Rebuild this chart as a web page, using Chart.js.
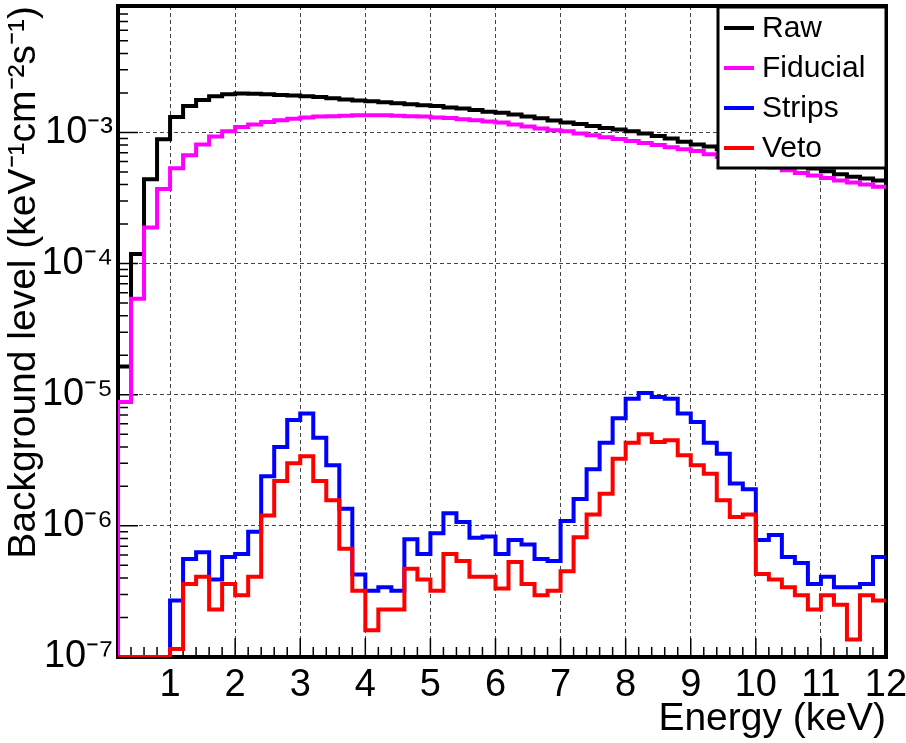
<!DOCTYPE html>
<html>
<head>
<meta charset="utf-8">
<script src="https://cdn.jsdelivr.net/npm/chart.js@4.4.1/dist/chart.umd.min.js"></script>
<style>
  html, body { margin: 0; padding: 0; background: #fff; }
</style>
</head>
<body>
<canvas id="chart" width="906" height="743"></canvas>
<script>
// bin low edges (keV), 0.2 keV bins, upper edge of last bin = 12
const energyLow = [0, 0.2, 0.4, 0.6, 0.8, 1.0, 1.2, 1.4, 1.6, 1.8,
  2.0, 2.2, 2.4, 2.6, 2.8, 3.0, 3.2, 3.4, 3.6, 3.8,
  4.0, 4.2, 4.4, 4.6, 4.8, 5.0, 5.2, 5.4, 5.6, 5.8,
  6.0, 6.2, 6.4, 6.6, 6.8, 7.0, 7.2, 7.4, 7.6, 7.8,
  8.0, 8.2, 8.4, 8.6, 8.8, 9.0, 9.2, 9.4, 9.6, 9.8,
  10.0, 10.2, 10.4, 10.6, 10.8, 11.0, 11.2, 11.4, 11.6, 11.8];
const energyMax = 12;

const raw = [1e-7, 1.64e-5, 1.18e-4, 4.4e-4, 8.85e-4, 1.31e-3, 1.59e-3, 1.77e-3, 1.89e-3, 1.95e-3,
  1.98e-3, 1.97e-3, 1.95e-3, 1.93e-3, 1.91e-3, 1.89e-3, 1.86e-3, 1.82e-3, 1.78e-3, 1.75e-3,
  1.73e-3, 1.70e-3, 1.67e-3, 1.64e-3, 1.61e-3, 1.59e-3, 1.55e-3, 1.52e-3, 1.48e-3, 1.44e-3,
  1.41e-3, 1.37e-3, 1.32e-3, 1.28e-3, 1.23e-3, 1.19e-3, 1.16e-3, 1.12e-3, 1.08e-3, 1.05e-3,
  1.02e-3, 9.8e-4, 9.4e-4, 9.0e-4, 8.5e-4, 8.1e-4, 7.8e-4, 7.45e-4, 7.1e-4, 6.75e-4,
  6.45e-4, 6.15e-4, 5.85e-4, 5.55e-4, 5.3e-4, 5.05e-4, 4.8e-4, 4.6e-4, 4.45e-4, 4.3e-4];

const fiducial = [1e-7, 8.8e-6, 5.4e-5, 1.88e-4, 3.7e-4, 5.33e-4, 6.7e-4, 8.1e-4, 9.3e-4, 1.02e-3,
  1.10e-3, 1.15e-3, 1.20e-3, 1.24e-3, 1.27e-3, 1.30e-3, 1.32e-3, 1.33e-3, 1.34e-3, 1.35e-3,
  1.35e-3, 1.35e-3, 1.34e-3, 1.33e-3, 1.32e-3, 1.30e-3, 1.29e-3, 1.26e-3, 1.24e-3, 1.21e-3,
  1.19e-3, 1.15e-3, 1.11e-3, 1.07e-3, 1.04e-3, 1.02e-3, 9.8e-4, 9.5e-4, 9.2e-4, 8.9e-4,
  8.6e-4, 8.3e-4, 8.0e-4, 7.7e-4, 7.45e-4, 7.2e-4, 6.8e-4, 6.5e-4, 6.2e-4, 5.9e-4,
  5.65e-4, 5.4e-4, 5.15e-4, 4.9e-4, 4.7e-4, 4.5e-4, 4.3e-4, 4.15e-4, 4.0e-4, 3.85e-4];

const strips = [1e-7, 1e-7, 1e-7, 1e-7, 1e-7, 2.7e-7, 5.6e-7, 6.3e-7, 3.9e-7, 5.8e-7,
  6.1e-7, 9.0e-7, 2.39e-6, 4.0e-6, 6.4e-6, 7.2e-6, 4.7e-6, 2.9e-6, 1.35e-6, 4.26e-7,
  3.2e-7, 3.4e-7, 3.2e-7, 7.9e-7, 6.1e-7, 8.8e-7, 1.25e-6, 1.07e-6, 8.1e-7, 8.3e-7,
  6.1e-7, 7.8e-7, 7.2e-7, 5.6e-7, 5.4e-7, 1.09e-6, 1.6e-6, 2.7e-6, 4.3e-6, 6.6e-6,
  9.3e-6, 1.03e-5, 9.6e-6, 9.3e-6, 7.2e-6, 6.2e-6, 4.3e-6, 3.55e-6, 2.1e-6, 1.9e-6,
  7.8e-7, 8.5e-7, 5.8e-7, 5.2e-7, 3.6e-7, 4.1e-7, 3.4e-7, 3.4e-7, 3.6e-7, 5.8e-7];

const veto = [1e-7, 1e-7, 1e-7, 1e-7, 1e-7, 1.15e-7, 3.6e-7, 4.1e-7, 2.3e-7, 3.6e-7,
  2.96e-7, 4.1e-7, 1.2e-6, 2.2e-6, 3.0e-6, 3.4e-6, 2.2e-6, 1.57e-6, 6.7e-7, 3.2e-7,
  1.6e-7, 2.3e-7, 2.3e-7, 4.7e-7, 3.9e-7, 3.2e-7, 6.1e-7, 5.4e-7, 4.1e-7, 4.1e-7,
  3.33e-7, 5.3e-7, 3.6e-7, 2.96e-7, 3.2e-7, 4.5e-7, 8.2e-7, 1.22e-6, 1.76e-6, 3.25e-6,
  4.3e-6, 5.0e-6, 4.35e-6, 4.5e-6, 3.45e-6, 2.9e-6, 2.5e-6, 1.57e-6, 1.17e-6, 1.22e-6,
  4.3e-7, 3.9e-7, 3.4e-7, 2.96e-7, 2.3e-7, 2.96e-7, 2.5e-7, 1.36e-7, 2.96e-7, 2.7e-7];

const seriesLabels = ['Raw', 'Fiducial', 'Strips', 'Veto'];
const seriesColors = ['#000000', '#ff00ff', '#0000ff', '#ff0000'];
const xTickValues = [1, 2, 3, 4, 5, 6, 7, 8, 9, 10, 11, 12];
const yTickValues = [1e-7, 1e-6, 1e-5, 1e-4, 1e-3];
const yTickLabels = ['10⁻⁷', '10⁻⁶', '10⁻⁵', '10⁻⁴', '10⁻³'];

const FONT = 'Liberation Sans, Arial, Helvetica, sans-serif';

// histogram as stepped line: one point per low edge + closing point at upper edge
function toSteps(values) {
  const pts = energyLow.map((e, i) => ({ x: e, y: values[i] }));
  pts.push({ x: energyMax, y: values[values.length - 1] });
  return pts;
}

// frame + inward ticks, drawn under the histograms (like ROOT)
const frameTicks = {
  id: 'frameTicks',
  beforeDatasetsDraw(chart) {
    const { ctx, chartArea: a, scales: { x, y } } = chart;
    ctx.save();
    ctx.strokeStyle = '#000';
    ctx.lineWidth = 1.5;
    ctx.beginPath();
    for (let i = 1; i <= 60; i++) {
      const v = i / 5;
      if (v < x.min) continue;
      const px = x.getPixelForValue(v);
      const len = i % 5 === 0 ? 19 : 10;
      ctx.moveTo(px, a.bottom);
      ctx.lineTo(px, a.bottom - len);
    }
    for (let e = -7; e <= -3; e++) {
      for (let m = 1; m <= 9; m++) {
        const v = m * Math.pow(10, e);
        if (v > y.max) break;
        const py = y.getPixelForValue(v);
        const len = m === 1 ? 20 : 10;
        ctx.moveTo(a.left, py);
        ctx.lineTo(a.left + len, py);
      }
    }
    ctx.stroke();
    ctx.lineWidth = 4;
    ctx.strokeRect(a.left, a.top, a.right - a.left, a.bottom - a.top);
    ctx.restore();
  }
};

// ROOT-style legend box in the top right corner
const boxLegend = {
  id: 'boxLegend',
  afterDraw(chart) {
    const { ctx, chartArea: a } = chart;
    const w = 168, rowH = 40;
    const x0 = a.right - w, y0 = a.top + 1;
    const h = rowH * chart.data.datasets.length + 1;
    ctx.save();
    ctx.fillStyle = '#fff';
    ctx.fillRect(x0, y0, w, h);
    ctx.strokeStyle = '#000';
    ctx.lineWidth = 3;
    ctx.strokeRect(x0, y0, w, h);
    ctx.font = '30px ' + FONT;
    ctx.textBaseline = 'middle';
    ctx.textAlign = 'left';
    chart.data.datasets.forEach((ds, i) => {
      const cy = y0 + 21 + i * rowH;
      ctx.strokeStyle = ds.borderColor;
      ctx.lineWidth = 4;
      ctx.beginPath();
      ctx.moveTo(x0 + 6, cy);
      ctx.lineTo(x0 + 36, cy);
      ctx.stroke();
      ctx.fillStyle = '#000';
      ctx.fillText(ds.label, x0 + 44, cy + 1);
    });
    ctx.restore();
  }
};

new Chart(document.getElementById('chart'), {
  type: 'line',
  data: {
    datasets: seriesLabels.map((label, i) => ({
      label: label,
      data: toSteps([raw, fiducial, strips, veto][i]),
      borderColor: seriesColors[i],
      borderWidth: 4,
      stepped: true,
      pointRadius: 0,
      fill: false,
      order: 4 - i
    }))
  },
  options: {
    responsive: false,
    animation: false,
    devicePixelRatio: 1,
    layout: { padding: { top: 6, right: 20, left: 0, bottom: 0 } },
    plugins: { legend: { display: false }, tooltip: { enabled: false } },
    scales: {
      x: {
        type: 'linear',
        min: 0.2,
        max: energyMax,
        afterBuildTicks: s => { s.ticks = xTickValues.map(v => ({ value: v })); },
        afterFit: s => { s.height = 86; s.paddingLeft = 0; s.paddingRight = 0; },
        ticks: {
          color: '#000',
          font: { family: FONT, size: 38 },
          padding: 6,
          maxRotation: 0,
          autoSkip: false,
          callback: v => String(v)
        },
        grid: { color: '#444', lineWidth: 1, drawTicks: false },
        border: { display: false, dash: [4, 3] },
        title: {
          display: true,
          text: 'Energy (keV)',
          align: 'end',
          color: '#000',
          font: { family: FONT, size: 39 },
          padding: { top: 0, bottom: 0 }
        }
      },
      y: {
        type: 'logarithmic',
        min: 1e-7,
        max: 9.2e-3,
        afterBuildTicks: s => { s.ticks = yTickValues.map(v => ({ value: v })); },
        afterFit: s => { s.width = 118; s.paddingTop = 0; s.paddingBottom = 0; },
        ticks: {
          color: '#000',
          font: { family: FONT, size: 38 },
          padding: 5,
          autoSkip: false,
          callback: v => yTickLabels[yTickValues.indexOf(v)]
        },
        grid: { color: '#444', lineWidth: 1, drawTicks: false },
        border: { display: false, dash: [4, 3] },
        title: {
          display: true,
          text: 'Background level (keV⁻¹cm⁻²s⁻¹)',
          align: 'end',
          color: '#000',
          font: { family: FONT, size: 39, lineHeight: 1 },
          padding: { top: 5, bottom: 0 }
        }
      }
    }
  },
  plugins: [frameTicks, boxLegend]
});
</script>
</body>
</html>
